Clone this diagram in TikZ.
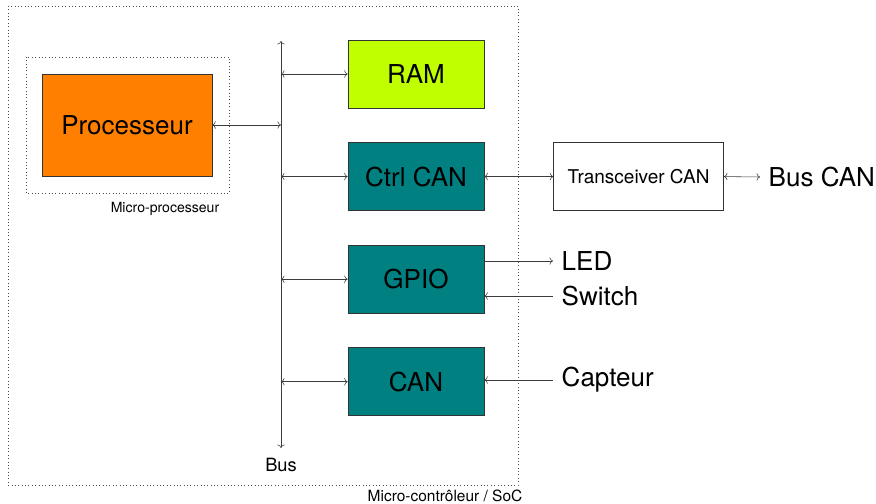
\documentclass[tikz,border=0pt]{standalone}
\usepackage{fontspec}
\setmainfont{TeX Gyre Heros}
\usepackage{tikz}
\usetikzlibrary{arrows.meta,positioning,calc}
\usepackage{xcolor}
\definecolor{procorange}{RGB}{255,128,0}
\definecolor{ramlime}{RGB}{191,255,0}
\definecolor{periphteal}{RGB}{0,128,128}
\definecolor{wiregray}{RGB}{60,60,60}

\begin{document}
\begin{tikzpicture}[x=0.025cm,y=-0.025cm,node distance=0.85cm,
    blockbox/.style={draw=black!80, rectangle, minimum width=3.4cm, minimum height=1.7cm, font=\fontsize{18.5}{22}\selectfont},
    sigtext/.style={anchor=west, inner xsep=6pt, font=\fontsize{18.5}{22}\selectfont},
    wire/.style={draw=wiregray}]
            \useasboundingbox (0,0) rectangle (876,504);

            % Micro-controleur frame
            \draw[dotted, black!70] (8,6) rectangle (518,485);
            \node[font=\fontsize{11}{13}\selectfont] (socname) at (445,496) {Micro-contrôleur / SoC};

            % Micro-processeur frame
            \draw[dotted, black!70] (26,57) rectangle (229,193);
            \node[font=\fontsize{10}{12}\selectfont] (mpname) at (165,209) {Micro-processeur};

            % Processeur
            \node[blockbox, fill=procorange, minimum width=4.25cm, minimum height=2.55cm] (proc) at (127,125) {Processeur};

            % Bus
            \coordinate (bustop) at (281,41);
            \coordinate (busbot) at (281,448);
            \draw[wire, <->] (bustop) -- (busbot);
            \node[font=\fontsize{13}{15}\selectfont] (buslabel) at (281,465) {Bus};

            % Peripheriques
            \node[blockbox, fill=ramlime] (ram) at (416,74) {RAM};
            \node[blockbox, fill=periphteal, below=of ram] (ctrlcan) {Ctrl CAN};
            \node[blockbox, fill=periphteal, below=of ctrlcan] (gpio) {GPIO};
            \node[blockbox, fill=periphteal, below=of gpio] (can) {CAN};

            % Transceiver
            \node[blockbox, draw=black!80, fill=white, minimum width=4.25cm, right=1.725cm of ctrlcan, font=\fontsize{13.5}{16}\selectfont] (trans) {Transceiver CAN};
            \node[sigtext] (buscan) at (760,177) {Bus CAN};

            % Signaux
            \node[sigtext] (led) at (553,261) {LED};
            \node[sigtext] (switch) at (553,296) {Switch};
            \node[sigtext] (capteur) at (553,380) {Capteur};

            % Arrows
            \draw[wire, <->] (proc.east) -- (proc.east -| bustop);
            \draw[wire, <->] (ram.west -| bustop) -- (ram.west);
            \draw[wire, <->] (ctrlcan.west -| bustop) -- (ctrlcan.west);
            \draw[wire, <->] (gpio.west -| bustop) -- (gpio.west);
            \draw[wire, <->] (can.west -| bustop) -- (can.west);
            \draw[wire, <->] (ctrlcan.east) -- (trans.west);
            \draw[wire, <->] (trans.east) -- (buscan.west);
            \draw[wire, ->] (gpio.east |- led.west) -- (led.west);
            \draw[wire, <-] (gpio.east |- switch.west) -- (switch.west);
            \draw[wire, <-] (can.east |- capteur.west) -- (capteur.west);
        \end{tikzpicture}
\end{document}
